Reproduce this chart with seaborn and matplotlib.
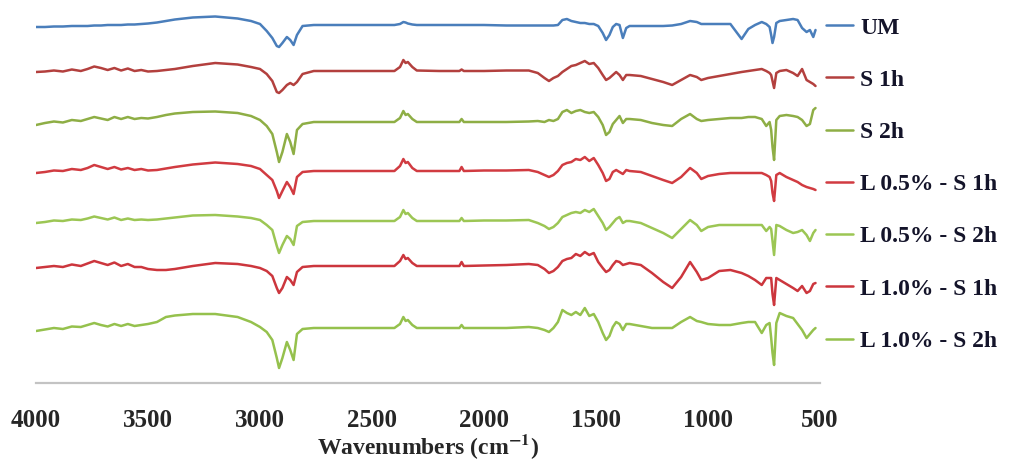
import pandas as pd
import seaborn as sns
import matplotlib.pyplot as plt
from matplotlib.font_manager import FontProperties

sns.set_style("white")
plt.rcParams['font.family'] = ['Liberation Serif', 'DejaVu Serif']
plt.rcParams['mathtext.fontset'] = 'stix'

# FTIR traces: shared wavenumber grid (cm-1)
wavenumber = [4000, 3960, 3920, 3880, 3840, 3800, 3770, 3740, 3710, 3680,
              3650, 3620, 3590, 3560, 3530, 3500, 3460, 3420, 3380, 3300,
              3200, 3100, 3040, 3000, 2970, 2945, 2925, 2915, 2900, 2880,
              2865, 2850, 2835, 2810, 2760, 2600, 2400, 2375, 2360, 2350,
              2340, 2320, 2300, 2200, 2110, 2100, 2090, 2000, 1900, 1800,
              1760, 1730, 1710, 1690, 1670, 1650, 1630, 1610, 1590, 1570,
              1550, 1530, 1510, 1490, 1470, 1455, 1440, 1425, 1410, 1395,
              1380, 1365, 1350, 1300, 1250, 1200, 1160, 1120, 1080, 1050,
              1030, 1000, 950, 900, 850, 820, 790, 760, 740, 725,
              718, 712, 705, 695, 680, 650, 620, 600, 580, 560,
              545, 530, 520]

# relative transmittance of each sample (arbitrary units, up = higher)
um = [-2, -2, -1.5, -1.5, -1, -1, -1, -0.5, -0.5, 0,
      0, 0, 0.5, 0.5, 1, 1.5, 2.5, 4, 5.5, 7.5,
      8.5, 6.5, 4, 1, -6, -13, -21, -22, -18, -12,
      -15, -20, -10, -1, 0, 0, 0, 1, 3, 2.5,
      1.5, 0.5, 0, 0, 0, 0, 0, 0, -0.5, -0.5,
      -0.5, -0.5, -0.5, -0.5, 0, 5, 6, 4, 3, 2,
      2, 1, 1, -1, -8, -15, -10, -2, 1, 0,
      -13, -3, -1, -1, -1, -1, -0.5, 1, 4, 3,
      1, 1, 1, 1, -14, -4, 0, 3, 1, -2,
      -10, -18, -12, 2, 4, 5, 6, 5, -3, -7,
      -5, -12, -5]

s_1h = [-1, -0.5, 0.5, -0.5, 1.5, 0, 2, 4.5, 3, 1,
        3, 0.5, 2.5, 0, 1, -0.5, 0, 1, 2, 5,
        8, 6.5, 4, 2, -3, -10, -21, -22, -19, -14,
        -12, -14, -11, -3, 0, 0, 0, 4, 11, 8,
        9, 4, 0.5, 0, 0, 1.5, 0, 0, 0.5, 0.5,
        -2, -7, -10, -7, -5, -1, 2, 5, 6, 8,
        10, 7, 8, 3, -4, -9, -7, -4, -1, -4,
        -9, -4, -4, -5, -8, -11, -14, -9, -4, -6,
        -9, -7, -5, -3, -1, 0, 1, 2, 0, -2,
        -4, -10, -17, -2, 0, 1, -2, -5, 2, -9,
        -11, -13, -15]

s_2h = [-3, -1, 0.5, -0.5, 2, 1, 3, 5, 3.5, 2,
        5, 3, 5, 3, 4, 3.5, 5, 7, 8.5, 10,
        10.5, 9, 6, 2, -4, -12, -30, -40, -30, -12,
        -20, -32, -8, -2, 0, 0, 0, 4, 11, 7,
        8, 3, 0, 0, 0, 3, 0, 0, 0, 0.5,
        1, 0, 2, 1, 3, 10, 12, 9, 11, 12,
        10, 9, 10, 5, -3, -13, -10, -2, 2, 6,
        -1, 3, 3, 2, -1, -3, -4, 3, 8, 3,
        1, 2, 3, 4, 4, 5, 5, 3, -4, 0,
        -8, -25, -38, 2, 6, 7, 6, 5, 2, -4,
        -2, 12, 14]

l05_s1h = [-2, -1, 0.5, 0, 2, 1, 3, 6, 4, 2,
           4, 1.5, 3, 1, 2, 0.5, 1, 2.5, 4, 6.5,
           8.5, 7, 5, 2, -4, -9, -20, -27, -20, -11,
           -16, -23, -6, -1, 0, 0, 0, 5, 12, 8,
           9, 3, 0, 0, 0, 4, 0, 0.5, 0.5, 1,
           -1, -4, -6, -4, 0, 6, 8, 9, 12, 11,
           14, 10, 13, 6, -2, -10, -8, -1, 1, -1,
           -3, 1, 0, -1, -5, -9, -12, -6, 3, -2,
           -8, -5, -3, -2, -2, -2, -2, -2, -4, -6,
           -10, -22, -30, -4, -2, -6, -9, -11, -14, -16,
           -17, -18, -19]

l05_s2h = [-2, -1, 0.5, 0, 1.5, 1, 2.5, 4.5, 3, 1.5,
           3.5, 1, 2.5, 1, 1.5, 1, 1.5, 2.5, 3.5, 5.5,
           6, 4.5, 3, 1, -4, -9, -25, -32, -24, -15,
           -18, -24, -5, -1, 0, 0, 0, 4, 11, 7,
           8, 3, 0, 0, 0, 3, 0, 0.5, 0.5, 1,
           -2, -5, -8, -6, -2, 4, 6, 8, 9, 8,
           11, 9, 12, 5, -2, -9, -6, -2, 2, 4,
           -2, 0, 0, -2, -7, -12, -17, -8, 1, -4,
           -10, -6, -4, -4, -4, -4, -4, -4, -10, -6,
           -8, -20, -34, -4, -5, -9, -12, -11, -9, -14,
           -20, -12, -9]

l10_s1h = [-2, -1, 0, -1, 1.5, 0, 2.5, 5, 3, 1,
           3.5, 0, 2, -1, -1, -3, -4, -4, -3, 0,
           3, 2, 0, -2, -5, -10, -22, -27, -22, -11,
           -14, -19, -6, -1, 0, 0, 0, 5, 11, 7,
           8, 3, 0, 0, 0, 4, 0, 0.5, 1, 2,
           1, -3, -7, -5, -1, 5, 7, 8, 12, 10,
           14, 11, 13, 4, -2, -6, -4, 1, 5, 4,
           1, 2, 3, 1, -7, -16, -22, -11, 4, -6,
           -14, -12, -5, -4, -7, -10, -14, -19, -12, -12,
           -12, -28, -39, -12, -14, -18, -22, -25, -20, -27,
           -25, -18, -17]

l10_s2h = [-3, -1.5, 0, -1, 1.5, 1, 3, 5, 3, 1.5,
           4, 2, 4, 2, 3, 4, 6, 11, 12.5, 14,
           14, 11, 6, 1, -4, -12, -30, -40, -30, -14,
           -22, -32, -6, -1, 0, 0, 0, 4, 11, 7,
           8, 3, 0, 0, 0, 3, 0, 0, 0, 1,
           0, -2, -4, 0, 6, 18, 15, 13, 16, 13,
           20, 12, 14, 6, -5, -12, -8, 1, 6, 4,
           -2, 4, 4, 2, 0, 0, 0, 6, 11, 7,
           6, 4, 3, 3, 5, 6, 6, -5, 3, 5,
           -10, -25, -37, 5, 15, 12, 10, 4, -2, -10,
           -6, -2, 0]

samples = ['UM', 'S 1h', 'S 2h', 'L 0.5% - S 1h', 'L 0.5% - S 2h',
           'L 1.0% - S 1h', 'L 1.0% - S 2h']
series = [um, s_1h, s_2h, l05_s1h, l05_s2h, l10_s1h, l10_s2h]
# vertical stacking offset of each trace
offsets = [-25, -71, -122, -171, -221, -266, -328]
colors = ['#4a7ebb', '#b3403e', '#8eae45', '#d13b41', '#9cc654',
          '#cc363d', '#95c14d']

frames = []
for name, vals, off in zip(samples, series, offsets):
    assert len(vals) == len(wavenumber), name
    frames.append(pd.DataFrame({'wavenumber': wavenumber,
                                'signal': [v + off for v in vals],
                                'sample': name}))
df = pd.concat(frames, ignore_index=True)

fig = plt.figure(figsize=(10.22, 4.62), dpi=100)
ax = fig.add_axes([36 / 1022, 79 / 462, 784 / 1022, 378 / 462])

sns.lineplot(data=df, x='wavenumber', y='signal', hue='sample',
             hue_order=samples, palette=dict(zip(samples, colors)),
             estimator=None, linewidth=1.8, ax=ax)

ax.set_xlim(4000, 500)
ax.set_ylim(-383, -5)
ax.set_xticks(range(4000, 499, -500))
ax.set_yticks([])
ax.set_ylabel('')
ax.tick_params(axis='x', length=0, pad=19, labelsize=18)
for lbl in ax.get_xticklabels():
    lbl.set_fontweight('bold')
ax.set_xlabel(r'Wavenumbers (cm$^{\mathbf{-1}}$)', fontsize=17,
              fontweight='bold', labelpad=0)

for side in ['top', 'left', 'right']:
    ax.spines[side].set_visible(False)
ax.spines['bottom'].set_color('#c3c3c3')
ax.spines['bottom'].set_linewidth(1.6)

handles, labels = ax.get_legend_handles_labels()
ax.legend(handles, labels, loc='upper left',
          bbox_to_anchor=(826 / 1022, 1 - 17 / 462),
          bbox_transform=fig.transFigure, frameon=False,
          borderpad=0, borderaxespad=0, handlelength=1.15,
          handletextpad=0.3, labelspacing=1.3,
          prop=FontProperties(family='Liberation Serif', weight='bold', size=17),
          labelcolor='#14142a')

fig.savefig('out.png', dpi=100)
